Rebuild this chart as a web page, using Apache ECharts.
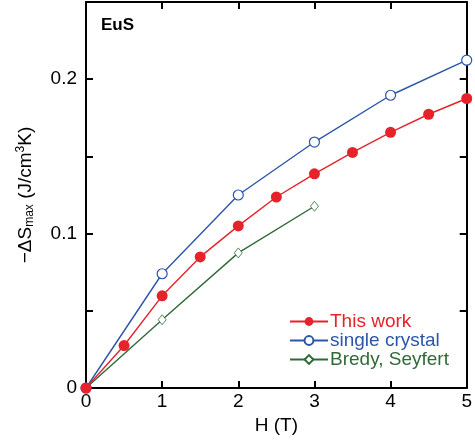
<!DOCTYPE html>
<html>
<head>
    <meta charset="utf-8">
    <title>EuS</title>
    <script src="https://cdn.jsdelivr.net/npm/echarts@6.0.0/dist/echarts.min.js"></script>
</head>
<body style="margin:0">
<div id="main" style="width: 475px;height:444px;"></div>
<script type="text/javascript">
    // field H (T) and -dS max (J/cm3K)
    var hThisWork = [0, 0.5, 1, 1.5, 2, 2.5, 3, 3.5, 4, 4.5, 5];
    var sThisWork = [0, 0.0275, 0.0597, 0.0849, 0.105, 0.1237, 0.1387, 0.1526, 0.1656, 0.1773, 0.1875];
    var hCrystal = [0, 1, 2, 3, 4, 5];
    var sCrystal = [0, 0.074, 0.125, 0.1593, 0.1896, 0.2123];
    var hBredy = [0, 1, 2, 3];
    var sBredy = [0, 0.0442, 0.0875, 0.1177];
    var seriesNames = ['This work', 'single crystal', 'Bredy, Seyfert'];
    var colors = ['#e6232b', '#2c56a9', '#2f6a36'];

    function pairs(xs, ys) {
        return xs.map(function (x, i) { return [x, ys[i]]; });
    }

    var myChart = echarts.init(document.getElementById('main'));
    var font = 'Liberation Sans';
    var axisCommon = {
        axisLine: {show: true, onZero: false, lineStyle: {color: '#000', width: 2}},
        axisTick: {show: true, inside: true, length: 7, lineStyle: {color: '#000', width: 2}},
        splitLine: {show: false}
    };

    var option = {
        animation: false,
        grid: {left: 86, right: 3, top: 2, bottom: 56},
        title: {
            text: 'EuS', left: 96, top: 12,
            textStyle: {fontFamily: font, fontSize: 17, fontWeight: 'bold', color: '#000'}
        },
        legend: {
            left: 284, top: 307, orient: 'vertical',
            itemGap: 0, itemWidth: 38, itemHeight: 11,
            textStyle: {fontFamily: font, fontSize: 19, lineHeight: 18, padding: [0, 0, 0, -3]},
            data: seriesNames.map(function (n, i) {
                return {name: n, textStyle: {color: colors[i]}};
            })
        },
        xAxis: [
            Object.assign({
                type: 'value', min: 0, max: 5, interval: 1, position: 'bottom',
                name: 'H (T)', nameLocation: 'middle', nameGap: 27,
                nameTextStyle: {fontFamily: font, fontSize: 19, color: '#000'},
                axisLabel: {fontFamily: font, fontSize: 19, color: '#000', margin: 4}
            }, axisCommon),
            Object.assign({
                type: 'value', min: 0, max: 5, interval: 1, position: 'top',
                axisLabel: {show: false}
            }, axisCommon)
        ],
        yAxis: [
            Object.assign({
                type: 'value', min: 0, max: 0.25, interval: 0.05, position: 'left',
                name: '{a|−ΔS}{sub|max}{a| (J/cm}{sup|3}{a|K)}',
                nameLocation: 'middle', nameGap: 49, nameRotate: 90,
                nameTextStyle: {
                    fontFamily: font, fontSize: 19, color: '#000',
                    rich: {
                        a: {fontFamily: font, fontSize: 19, color: '#000', lineHeight: 22},
                        sub: {fontFamily: font, fontSize: 12, color: '#000', padding: [8, 0, 0, 0]},
                        sup: {fontFamily: font, fontSize: 12, color: '#000', padding: [0, 0, 10, 0]}
                    }
                },
                axisLabel: {
                    fontFamily: font, fontSize: 19, color: '#000', margin: 9,
                    formatter: function (v) {
                        var r = Math.round(v * 100) / 100;
                        if (Math.abs(r * 10 - Math.round(r * 10)) > 1e-6) return '';
                        return r === 0 ? '0' : r.toFixed(1);
                    }
                }
            }, axisCommon),
            Object.assign({
                type: 'value', min: 0, max: 0.25, interval: 0.05, position: 'right',
                axisLabel: {show: false}
            }, axisCommon)
        ],
        series: [
            {
                name: seriesNames[0], type: 'line', data: pairs(hThisWork, sThisWork),
                symbol: 'circle', symbolSize: 11, z: 3,
                lineStyle: {color: colors[0], width: 1.4},
                itemStyle: {color: colors[0], borderColor: colors[0], borderWidth: 0}
            },
            {
                name: seriesNames[1], type: 'line', data: pairs(hCrystal, sCrystal),
                symbol: 'circle', symbolSize: 10, z: 2,
                lineStyle: {color: colors[1], width: 1.4},
                itemStyle: {color: '#fff', borderColor: colors[1], borderWidth: 1.2}
            },
            {
                name: seriesNames[2], type: 'line', data: pairs(hBredy, sBredy),
                symbol: 'diamond', symbolSize: [8, 10], z: 2,
                lineStyle: {color: colors[2], width: 1.4},
                itemStyle: {color: '#fff', borderColor: colors[2], borderWidth: 0.8}
            }
        ]
    };

    myChart.setOption(option);
</script>
</body>
</html>
